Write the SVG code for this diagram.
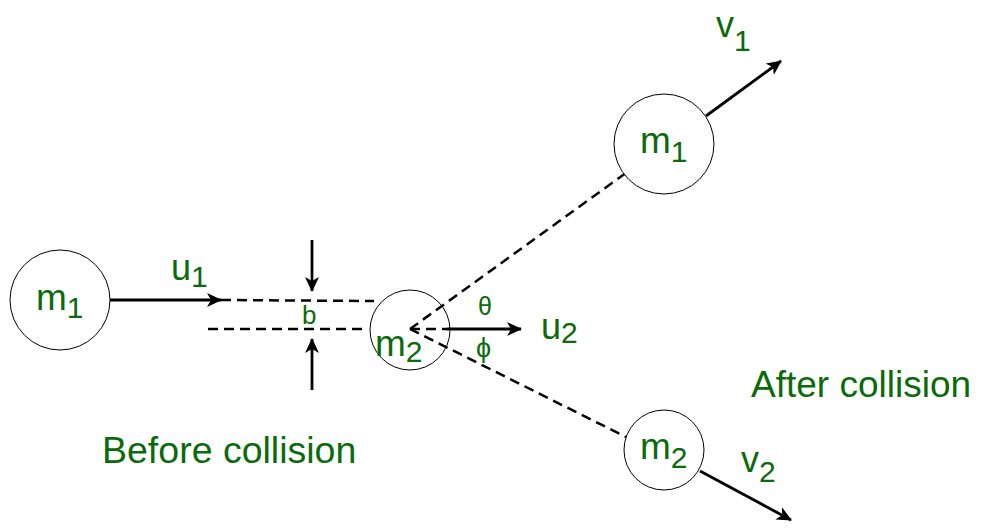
<svg xmlns="http://www.w3.org/2000/svg" width="981" height="531" viewBox="0 0 981 531">
<defs>
<style>
.node circle{fill:#fff;stroke:#000;stroke-width:1}
text{font-family:"Liberation Sans",Arial,sans-serif;fill:#0b6a0b}
.lbl{font-size:37px}
.sm{font-size:36px}
.sub{font-size:30px}
.dash{stroke:#000;stroke-width:2.5;stroke-dasharray:10,6;fill:none}
.arr{stroke:#000;stroke-width:2.8;fill:none;marker-end:url(#ah)}
</style>
<marker id="ah" markerUnits="userSpaceOnUse" markerWidth="16" markerHeight="14" refX="14" refY="7" orient="auto">
<path d="M0,0 L15,7 L0,14 L4,7 Z" fill="#000"/>
</marker>
</defs>
<rect width="981" height="531" fill="#fff"/>
<g id="connectors">
<line class="arr" x1="110" y1="300" x2="221" y2="300"/>
<line class="dash" x1="221" y1="300" x2="374" y2="301"/>
<line class="dash" x1="208" y1="329" x2="368" y2="329"/>
<line class="dash" x1="410" y1="329" x2="447" y2="329"/>
<line class="arr" x1="447" y1="329" x2="521" y2="329"/>
<line class="arr" x1="312" y1="240" x2="312" y2="291"/>
<line class="arr" x1="312" y1="390" x2="312" y2="339"/>
<line class="dash" x1="410" y1="329" x2="630" y2="170"/>
<line class="dash" x1="410" y1="329" x2="626" y2="437"/>
<line class="arr" x1="706" y1="116" x2="781" y2="61"/>
<line class="arr" x1="700" y1="471" x2="791" y2="520"/>
</g>
<g id="m1-before" class="node">
<circle cx="60" cy="300" r="50"/>
<text class="lbl" x="36" y="310">m<tspan class="sub" dy="8">1</tspan></text>
</g>
<g id="m2-before" class="node">
<circle cx="410" cy="330" r="40" style="fill:none"/>
<text class="lbl" x="375" y="356">m<tspan class="sub" dy="6">2</tspan></text>
</g>
<g id="m1-after" class="node">
<circle cx="664" cy="144" r="50"/>
<text class="lbl" x="640" y="153">m<tspan class="sub" dy="9">1</tspan></text>
</g>
<g id="m2-after" class="node">
<circle cx="664" cy="450" r="40"/>
<text class="lbl" x="640" y="459">m<tspan class="sub" dy="9">2</tspan></text>
</g>
<g id="labels">
<text class="sm" x="171" y="280">u<tspan class="sub" dy="7">1</tspan></text>
<text style="font-size:26px" x="302" y="324">b</text>
<text style="font-size:25px" x="478" y="315">θ</text>
<text style="font-size:27px" x="476" y="357">ϕ</text>
<text class="sm" x="541" y="339">u<tspan class="sub" dy="4">2</tspan></text>
<text class="sm" x="716" y="37">v<tspan class="sub" dy="14">1</tspan></text>
<text class="sm" x="741" y="472">v<tspan class="sub" dy="10">2</tspan></text>
<text style="font-size:37.5px" x="102" y="463">Before collision</text>
<text style="font-size:37px" x="751" y="397">After collision</text>
</g>
</svg>
